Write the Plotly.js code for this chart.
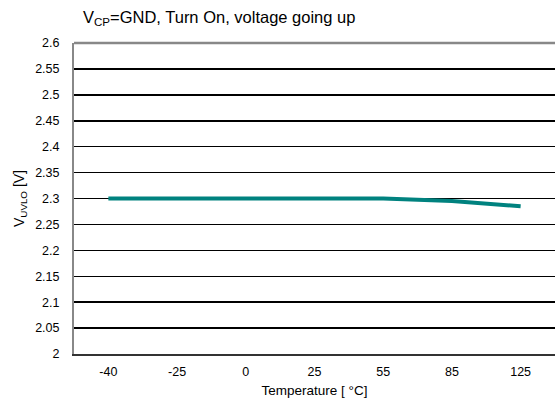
<!DOCTYPE html>
<html>
<head>
<meta charset="utf-8">
<script src="https://cdn.plot.ly/plotly-3.0.1.min.js"></script>
<style>html,body{margin:0;padding:0;background:#fff;}#chart{width:555px;height:403px;}</style>
</head>
<body>
<div id="chart"></div>
<script>
var temperatures = ["-40", "-25", "0", "25", "55", "85", "125"];
var vuvlo = [2.3, 2.3, 2.3, 2.3, 2.3, 2.295, 2.285];
var yTickVals = [2, 2.05, 2.1, 2.15, 2.2, 2.25, 2.3, 2.35, 2.4, 2.45, 2.5, 2.55, 2.6];
var yTickText = ["2", "2.05", "2.1", "2.15", "2.2", "2.25", "2.3", "2.35", "2.4", "2.45", "2.5", "2.55", "2.6"];

var font = "Liberation Sans, Arial, sans-serif";
var trace = {
  x: temperatures,
  y: vuvlo,
  type: "scatter",
  mode: "lines",
  line: {color: "#00827f", width: 4},
  hoverinfo: "skip"
};
var layout = {
  width: 555,
  height: 403,
  margin: {l: 74, r: 0, t: 43, b: 49},
  paper_bgcolor: "#ffffff",
  plot_bgcolor: "#ffffff",
  showlegend: false,
  title: {
    text: "V<sub>CP</sub>=GND, Turn On, voltage going up",
    font: {family: font, size: 16.5, color: "#000"},
    x: 83/555, xanchor: "left", xref: "container",
    y: 1 - 17/403, yanchor: "middle", yref: "container"
  },
  xaxis: {
    type: "category",
    range: [-0.5, 6.5],
    showgrid: false,
    zeroline: false,
    showline: true,
    linecolor: "#333333",
    linewidth: 2,
    ticks: "",
    ticklabelstandoff: 5,
    tickfont: {family: font, size: 12.5, color: "#000"},
    title: {text: "Temperature [ °C]", font: {family: font, size: 13.5, color: "#000"}, standoff: 8},
    fixedrange: true
  },
  yaxis: {
    range: [2, 2.6],
    tickvals: yTickVals,
    ticktext: yTickText,
    showgrid: true,
    gridcolor: "#000000",
    gridwidth: 1.5,
    zeroline: false,
    showline: true,
    linecolor: "#888888",
    linewidth: 2,
    ticks: "",
    ticklabelstandoff: 10,
    tickfont: {family: font, size: 12.5, color: "#000"},
    title: {text: "V<sub>UVLO</sub> [V]", font: {family: font, size: 14, color: "#000"}, standoff: 7},
    fixedrange: true
  },
  shapes: [{
    type: "line", xref: "paper", yref: "paper",
    x0: 0, x1: 1, y0: 1, y1: 1,
    line: {color: "#888888", width: 2.5}
  }]
};
Plotly.newPlot("chart", [trace], layout, {displayModeBar: false, staticPlot: true});
</script>
</body>
</html>
